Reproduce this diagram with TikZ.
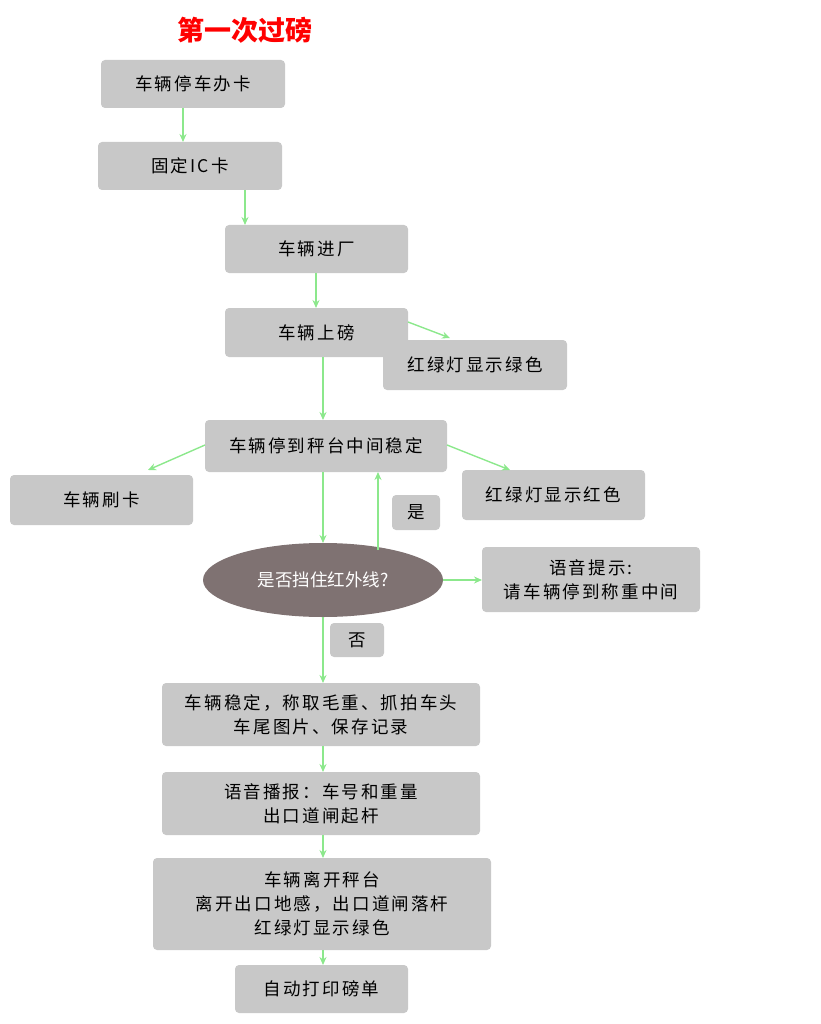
\documentclass[tikz,border=0pt]{standalone}
\usepackage{fontspec}
\setmainfont{Noto Sans CJK SC}
\usetikzlibrary{shapes.geometric,arrows.meta}
\definecolor{bx}{HTML}{C8C8C8}
\definecolor{ar}{HTML}{8CE88C}
\definecolor{el}{HTML}{7F7272}
\tikzset{
 bxs/.style={fill=bx,rounded corners=4pt,draw=none,font=\fontsize{17.5}{24}\selectfont\addfontfeatures{LetterSpace=12},align=center},
 arr/.style={draw=ar,line width=1.4pt,-{Stealth[length=8pt,width=7pt]}}
}
\begin{document}
\begin{tikzpicture}[x=1pt,y=-1pt]
\useasboundingbox (0,0) rectangle (820,1024);
\node[text=red,font=\fontsize{27}{30}\selectfont\bfseries] (t) at (245,30) {第一次过磅};
\newcommand\bb[6]{\path[bxs] (#2,#3) rectangle (#4,#5); \node[bxs,fill=none,inner sep=0] (#1) at ({(#2+#4)/2},{(#3+#5)/2}) {#6};
 \coordinate (#1n) at ({(#2+#4)/2},#3); \coordinate (#1s) at ({(#2+#4)/2},#5);}
\bb{b1}{101}{60}{285}{108}{车辆停车办卡}
\bb{b2}{98}{142}{282}{190}{固定IC卡}
\bb{b3}{225}{225}{408}{273}{车辆进厂}
\bb{b4}{225}{308}{408}{357}{车辆上磅}
\bb{g1}{383}{340}{567}{390}{红绿灯显示绿色}
\bb{b5}{205}{420}{447}{472}{车辆停到秤台中间稳定}
\bb{l}{10}{475}{193}{525}{车辆刷卡}
\bb{r}{462}{470}{645}{520}{红绿灯显示红色}
\bb{y}{392}{495}{440}{530}{是}
\bb{v}{482}{547}{700}{612}{语音提示:\\请车辆停到称重中间}
\bb{n}{330}{623}{384}{657}{否}
\bb{b6}{162}{683}{480}{746}{车辆稳定，称取毛重、抓拍车头\\车尾图片、保存记录}
\bb{b7}{162}{772}{480}{835}{语音播报：车号和重量\\出口道闸起杆}
\bb{b8}{153}{858}{491}{950}{车辆离开秤台\\离开出口地感，出口道闸落杆\\红绿灯显示绿色}
\bb{b9}{235}{965}{408}{1013}{自动打印磅单}
\node[ellipse,fill=el,minimum width=240pt,minimum height=74pt,text=white,font=\fontsize{17.5}{24}\selectfont] (e) at (323,580) {是否挡住红外线?};
\draw[arr] (183,108) -- (183,142);
\draw[arr] (245,190) -- (245,225);
\draw[arr] (316,273) -- (316,308);
\draw[arr] (408,322) -- (450,338);
\draw[arr] (323,357) -- (323,420);
\draw[arr] (205,445) -- (148,470);
\draw[arr] (447,445) -- (510,470);
\draw[arr] (323,472) -- (323,543);
\draw[arr] (378,550) -- (378,472);
\draw[arr] (e.east) -- (482,580);
\draw[arr] (323,617) -- (323,683);
\draw[arr] (323,746) -- (323,772);
\draw[arr] (323,835) -- (323,858);
\draw[arr] (323,950) -- (323,965);
\end{tikzpicture}
\end{document}
